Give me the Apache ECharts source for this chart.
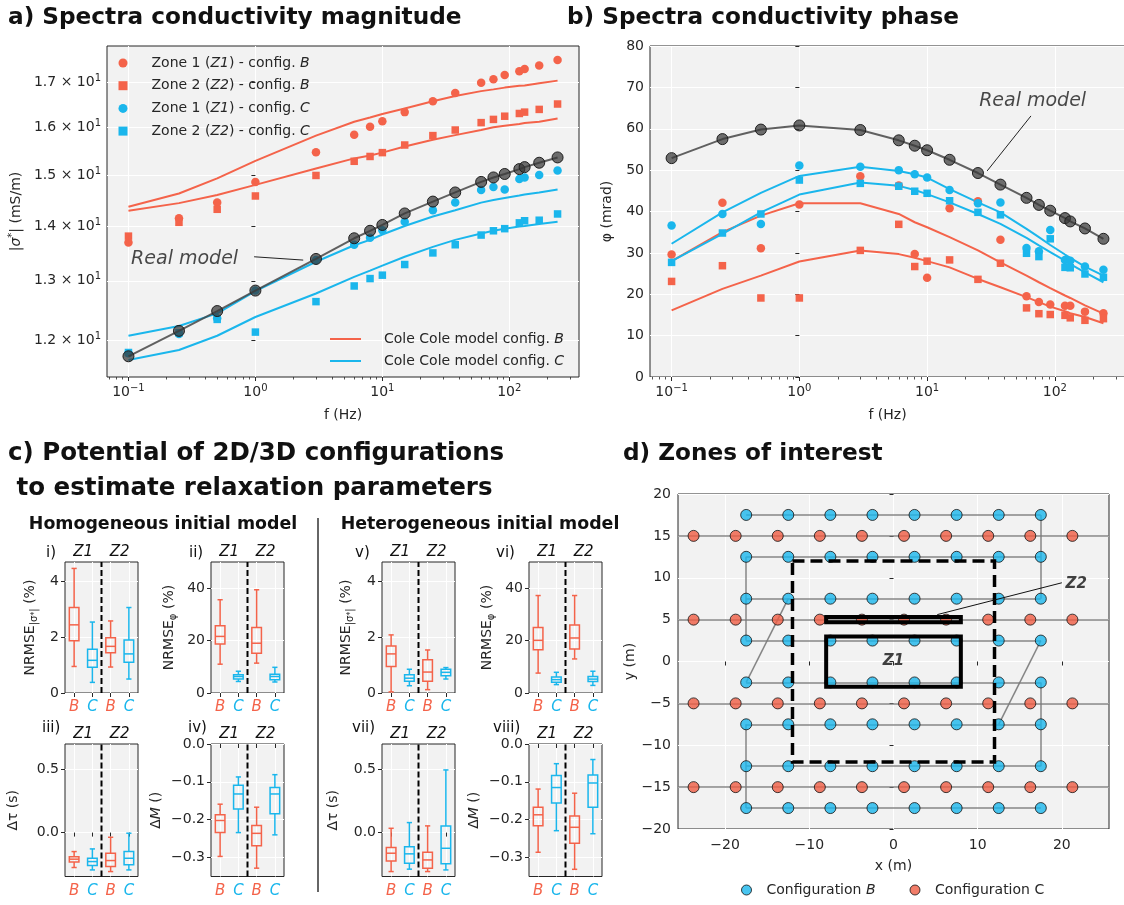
<!DOCTYPE html>
<html>
<head>
<meta charset="utf-8">
<script src="https://cdn.jsdelivr.net/npm/echarts@6/dist/echarts.min.js"></script>
<style>
html, body { margin: 0; padding: 0; background: #ffffff; }
#chart { width: 1124px; height: 905px; }
</style>
</head>
<body>
<div id="chart"></div>
<script>
// ---------------- data ----------------
// measurement frequencies (Hz)
const freqs = [0.1, 0.25, 0.5, 1, 3, 6, 8, 10, 15, 25, 37.5, 60, 75, 92, 120, 132, 172, 240];

// conductivity magnitude |sigma*| (mS/m)
const magReal  = [11.74, 12.15, 12.48, 12.83, 13.39, 13.77, 13.91, 14.02, 14.24, 14.47, 14.65, 14.86, 14.95, 15.02, 15.12, 15.16, 15.25, 15.36];
const magZ1B   = [13.69, 14.15, 14.45, 14.86, 15.47, 15.84, 16.01, 16.13, 16.33, 16.57, 16.76, 16.99, 17.07, 17.17, 17.26, 17.31, 17.39, 17.52];
const magZ2B   = [13.81, 14.07, 14.32, 14.58, 14.99, 15.28, 15.38, 15.46, 15.62, 15.82, 15.94, 16.10, 16.17, 16.24, 16.30, 16.33, 16.39, 16.51];
const magZ1C   = [11.79, 12.10, 12.36, 12.83, 13.37, 13.65, 13.78, 13.92, 14.08, 14.30, 14.45, 14.70, 14.76, 14.71, 14.92, 14.95, 15.00, 15.09];
const magZ2C   = [11.80, 12.12, 12.34, 12.13, 12.64, 12.91, 13.04, 13.10, 13.29, 13.50, 13.65, 13.83, 13.91, 13.95, 14.06, 14.10, 14.11, 14.23];
const magFitZ1B = [14.37, 14.63, 14.93, 15.29, 15.82, 16.12, 16.21, 16.29, 16.41, 16.57, 16.69, 16.80, 16.84, 16.88, 16.92, 16.93, 16.98, 17.04];
const magFitZ2B = [14.29, 14.44, 14.60, 14.80, 15.13, 15.34, 15.40, 15.46, 15.59, 15.73, 15.83, 15.94, 16.00, 16.03, 16.07, 16.09, 16.12, 16.19];
const magFitZ1C = [12.07, 12.23, 12.44, 12.82, 13.34, 13.64, 13.74, 13.84, 14.00, 14.18, 14.30, 14.45, 14.50, 14.54, 14.59, 14.61, 14.65, 14.71];
const magFitZ2C = [11.68, 11.84, 12.07, 12.38, 12.78, 13.07, 13.18, 13.27, 13.43, 13.61, 13.74, 13.86, 13.91, 13.95, 13.99, 14.00, 14.04, 14.08];
const magTicks = [12, 13, 14, 15, 16, 17];

// conductivity phase (mrad)
const phReal  = [52.9, 57.5, 59.8, 60.8, 59.7, 57.2, 55.9, 54.8, 52.5, 49.3, 46.5, 43.3, 41.6, 40.2, 38.4, 37.6, 35.9, 33.4];
const phZ1B   = [29.6, 42.1, 31.1, 41.7, 48.5, 46.3, 29.7, 24.0, 40.8, 42.5, 33.2, 19.5, 18.1, 17.5, 17.2, 17.2, 15.8, 15.4];
const phZ2B   = [23.1, 26.9, 19.1, 19.1, 30.6, 36.9, 26.7, 28.0, 28.3, 23.6, 27.5, 16.7, 15.3, 15.1, 14.9, 14.3, 13.7, 14.1];
const phZ1C   = [36.6, 39.4, 37.0, 51.1, 50.8, 50.0, 49.0, 48.2, 45.2, 42.0, 42.2, 31.2, 30.4, 35.5, 28.3, 28.1, 26.7, 25.9];
const phZ2C   = [27.7, 34.8, 39.4, 47.6, 46.8, 46.1, 44.9, 44.4, 42.6, 39.8, 39.2, 29.9, 29.1, 33.4, 26.5, 26.4, 24.9, 24.1];
const phFitZ1B = [28.0, 35.0, 39.0, 42.0, 42.0, 39.4, 37.4, 36.2, 33.8, 30.6, 27.7, 24.5, 22.9, 21.5, 19.7, 19.1, 17.3, 15.3];
const phFitZ2B = [16.1, 21.3, 24.5, 27.9, 30.6, 29.7, 28.8, 28.0, 26.5, 23.7, 21.7, 19.3, 18.1, 17.0, 15.9, 15.4, 14.5, 13.0];
const phFitZ1C = [32.2, 39.8, 44.5, 48.6, 50.8, 49.8, 49.0, 48.2, 45.4, 42.2, 39.8, 35.8, 33.8, 31.9, 29.6, 28.8, 26.7, 24.5];
const phFitZ2C = [28.0, 34.6, 39.8, 44.1, 47.0, 46.2, 45.2, 44.2, 42.2, 39.4, 37.0, 33.6, 31.8, 30.2, 28.1, 27.3, 25.3, 22.9];

// "Real model" callouts: [f (Hz), value] for text and pointer ends
const magNote = { text: [0.277, 13.38], from: [0.977, 13.43], to: [2.38, 13.37] };
const phNote  = { text: [67, 66.6], from: [65, 63.1], to: [29.5, 49.8] };

// box statistics per subplot, boxes ordered Z1-B, Z1-C, Z2-B, Z2-C
// each box: [lower whisker, Q1, median, Q3, upper whisker]
const boxI    = [[0.95, 1.87, 2.44, 3.06, 4.46], [0.38, 0.92, 1.17, 1.57, 2.54], [0.93, 1.44, 1.67, 1.98, 2.58], [0.50, 1.10, 1.40, 1.90, 3.06]];
const boxII   = [[11.0, 18.7, 21.6, 25.7, 35.6], [4.4, 5.3, 6.3, 7.0, 8.3], [11.4, 15.2, 19.0, 25.0, 39.4], [4.2, 5.1, 6.3, 7.2, 9.8]];
const boxIII  = [[-0.276, -0.232, -0.210, -0.190, -0.150], [-0.295, -0.260, -0.229, -0.203, -0.129], [-0.308, -0.268, -0.221, -0.163, -0.037], [-0.295, -0.255, -0.203, -0.150, -0.005]];
const boxIV   = [[-0.297, -0.234, -0.202, -0.187, -0.159], [-0.234, -0.172, -0.132, -0.109, -0.087], [-0.328, -0.269, -0.236, -0.215, -0.167], [-0.240, -0.184, -0.132, -0.115, -0.081]];
const boxV    = [[0.04, 0.95, 1.40, 1.68, 2.08], [0.26, 0.42, 0.53, 0.65, 0.85], [0.12, 0.42, 0.75, 1.19, 1.54], [0.50, 0.62, 0.74, 0.85, 0.91]];
const boxVI   = [[7.6, 16.5, 20.1, 25.0, 37.2], [3.2, 4.1, 5.1, 6.1, 7.9], [13.0, 16.8, 21.0, 26.0, 37.2], [2.9, 4.4, 5.3, 6.3, 8.3]];
const boxVII  = [[-0.308, -0.224, -0.163, -0.118, 0.034], [-0.289, -0.242, -0.168, -0.111, 0.079], [-0.308, -0.282, -0.216, -0.155, 0.053], [-0.295, -0.247, -0.124, 0.053, 0.495]];
const boxVIII = [[-0.286, -0.216, -0.187, -0.167, -0.119], [-0.229, -0.156, -0.115, -0.083, -0.052], [-0.331, -0.262, -0.220, -0.190, -0.130], [-0.237, -0.167, -0.103, -0.082, -0.041]];
const boxCats = ['B', 'C', 'B', 'C'];

// survey layout (m)
const cfgBX = [-17.5, -12.5, -7.5, -2.5, 2.5, 7.5, 12.5, 17.5];
const cfgBY = [17.5, 12.5, 7.5, 2.5, -2.5, -7.5, -12.5, -17.5];
const cfgCX = [-23.75, -18.75, -13.75, -8.75, -3.75, 1.25, 6.25, 11.25, 16.25, 21.25];
const cfgCY = [15, 5, -5, -15];
const cableC = [[[-25.6, 15], [25.6, 15]], [[-25.6, 5], [25.6, 5]], [[-25.6, -5], [25.6, -5]], [[-25.6, -15], [25.6, -15]]];
const cableB = [
  [[-17.5, 17.5], [17.5, 17.5]], [[-17.5, 12.5], [17.5, 12.5]], [[-17.5, 7.5], [17.5, 7.5]], [[-17.5, 2.5], [17.5, 2.5]],
  [[-17.5, -2.5], [17.5, -2.5]], [[-17.5, -7.5], [17.5, -7.5]], [[-17.5, -12.5], [17.5, -12.5]], [[-17.5, -17.5], [17.5, -17.5]],
  [[17.5, 17.5], [17.5, 7.5]], [[17.5, -2.5], [17.5, -12.5]], [[-17.5, 12.5], [-17.5, 2.5]], [[-17.5, -7.5], [-17.5, -17.5]],
  [[-12.5, 7.5], [-17.5, -2.5]], [[17.5, 2.5], [12.5, -7.5]]
];
const outerZone = [[-12, 12], [12, 12], [12, -12], [-12, -12], [-12, 12]];
const zoneZ1 = [[-8, 3], [8, 3], [8, -3], [-8, -3], [-8, 3], [8, 3]];
const zoneZ2 = [[-8, 5.3], [8, 5.3], [8, 4.7], [-8, 4.7], [-8, 5.3], [8, 5.3]];
const z1Label = [0, 0];
const z2Label = [21.7, 9.25];
const z2Pointer = [[20.0, 9.4], [5.2, 5.6]];

// ---------------- styling ----------------
const FONT = "'DejaVu Sans', sans-serif";
const INK = '#262626';
const RED = '#f4634a';
const BLUE = '#1ab6ec';
const BG = '#f2f2f2';
const lg = Math.log10;

const LOGF_MIN = -1.169, LOGF_MAX = 2.549;
const decadeTicks = [-1, 0, 1, 2];
const minorTicks = [];
for (let e = -2; e <= 2; e++) for (let k = 2; k <= 9; k++) minorTicks.push(lg(k * Math.pow(10, e)));

const tickRich = {
  b: { fontFamily: FONT, fontSize: 14, color: INK, lineHeight: 18 },
  s: { fontFamily: FONT, fontSize: 10, color: INK, lineHeight: 10, verticalAlign: 'top' }
};
const minus = v => (v < 0 ? '\u2212' + (-v) : '' + v);

function gridOf(b) {
  return { left: b.l, top: b.t, width: b.w, height: b.h, show: true, backgroundColor: BG,
           borderColor: INK, borderWidth: 1, containLabel: false, outerBoundsMode: 'none' };
}

const boxA = { l: 107, t: 46, w: 472, h: 331 };
const boxB = { l: 650, t: 46, w: 475, h: 331 };
const boxD = { l: 678, t: 494, w: 431, h: 335 };
const subBoxes = [
  { l: 65,  t: 562, w: 73, h: 131 },   // i
  { l: 211, t: 562, w: 73, h: 131 },   // ii
  { l: 65,  t: 744, w: 73, h: 132.5 }, // iii
  { l: 211, t: 744, w: 73, h: 132.5 }, // iv
  { l: 382, t: 562, w: 73, h: 131 },   // v
  { l: 529, t: 562, w: 73, h: 131 },   // vi
  { l: 382, t: 744, w: 73, h: 132.5 }, // vii
  { l: 529, t: 744, w: 73, h: 132.5 }  // viii
];

const nameStyle = { fontFamily: FONT, fontSize: 14, color: INK };
const tickLine = { color: INK, width: 1 };
const whiteSplit = { show: true, lineStyle: { color: '#ffffff', width: 1 } };

// ---------------- axes ----------------
const grids = [gridOf(boxA), gridOf(boxB)].concat(subBoxes.map(gridOf)).concat([gridOf(boxD)]);
const xAxes = [];
const yAxes = [];

function freqAxes(gi) {
  const base = { type: 'value', gridIndex: gi, position: 'bottom', min: LOGF_MIN, max: LOGF_MAX, axisLine: { show: false } };
  xAxes.push(Object.assign({}, base, {
    axisTick: { show: true, length: 4, lineStyle: tickLine, customValues: decadeTicks },
    axisLabel: { show: true, customValues: decadeTicks, margin: 6,
                 formatter: v => '{b|10}{s|' + minus(Math.round(v)) + '}', rich: tickRich },
    splitLine: whiteSplit,
    name: 'f (Hz)', nameLocation: 'middle', nameGap: 31, nameTextStyle: nameStyle
  }));
  const major = xAxes.length - 1;
  xAxes.push(Object.assign({}, base, {
    axisTick: { show: true, length: 2.5, lineStyle: { color: INK, width: 0.8 }, customValues: minorTicks },
    axisLabel: { show: false }, splitLine: { show: false }
  }));
  return major;
}

const XA = freqAxes(0);
yAxes.push({
  type: 'value', gridIndex: 0, min: 1.0575, max: 1.2518, axisLine: { show: false },
  axisTick: { show: true, length: 4, lineStyle: tickLine, customValues: magTicks.map(lg) },
  axisLabel: { customValues: magTicks.map(lg), margin: 6, rich: tickRich,
               formatter: v => '{b|' + (Math.pow(10, v) / 10).toFixed(1) + ' \u00d7 10}{s|1}' },
  splitLine: whiteSplit,
  name: '{i||\u03c3}{s|*}{b|| (mS/m)}', nameLocation: 'middle', nameGap: 82, nameRotate: 90,
  nameTextStyle: { rich: {
    b: { fontFamily: FONT, fontSize: 14, color: INK, lineHeight: 18 },
    i: { fontFamily: FONT, fontSize: 14, color: INK, fontStyle: 'italic', lineHeight: 18 },
    s: { fontFamily: FONT, fontSize: 10, color: INK, lineHeight: 10, verticalAlign: 'top' } } }
});
const YA = 0;

const XB = freqAxes(1);
yAxes.push({
  type: 'value', gridIndex: 1, min: 0, max: 80, interval: 10, axisLine: { show: false },
  axisTick: { show: true, length: 4, lineStyle: tickLine },
  axisLabel: { margin: 6, fontFamily: FONT, fontSize: 14, color: INK },
  splitLine: whiteSplit,
  name: '\u03c6 (mrad)', nameLocation: 'middle', nameGap: 36, nameRotate: 90, nameTextStyle: nameStyle
});
const YB = 1;

// box-plot subplots
const subRich = {
  n: { fontFamily: FONT, fontSize: 14, color: INK, lineHeight: 18 },
  i: { fontFamily: FONT, fontSize: 14, color: INK, fontStyle: 'italic', lineHeight: 18 },
  s: { fontFamily: FONT, fontSize: 10, color: INK, lineHeight: 10, verticalAlign: 'bottom' },
  ss: { fontFamily: FONT, fontSize: 8, color: INK, lineHeight: 14, verticalAlign: 'bottom' }
};
const nrmseSigma = '{n|NRMSE}{s||\u03c3}{ss|*}{s||}{n| (%)}';
const nrmsePhi = '{n|NRMSE}{s|\u03c6}{n| (%)}';
const dTau = '{n|\u0394\u03c4 (s)}';
const dM = '{n|\u0394}{i|M}{n| ()}';

const subSpecs = [
  { stats: boxI,    min: 0, max: 4.69, ticks: [0, 2, 4],       fmt: v => '' + v,            name: nrmseSigma, gap: 26, label: 'i)',    lx: 46 },
  { stats: boxII,   min: 0, max: 50,   ticks: [0, 20, 40],     fmt: v => '' + v,            name: nrmsePhi,   gap: 33, label: 'ii)',   lx: 189 },
  { stats: boxIII,  min: -0.347, max: 0.70, ticks: [0, 0.5],   fmt: v => v.toFixed(1),      name: dTau,       gap: 43, label: 'iii)',  lx: 42 },
  { stats: boxIV,   min: -0.35, max: 0, ticks: [0, -0.1, -0.2, -0.3], fmt: v => (v < 0 ? '\u2212' + (-v).toFixed(1) : '0.0'), name: dM, gap: 46, label: 'iv)', lx: 188 },
  { stats: boxV,    min: 0, max: 4.69, ticks: [0, 2, 4],       fmt: v => '' + v,            name: nrmseSigma, gap: 27, label: 'v)',    lx: 355 },
  { stats: boxVI,   min: 0, max: 50,   ticks: [0, 20, 40],     fmt: v => '' + v,            name: nrmsePhi,   gap: 33, label: 'vi)',   lx: 496 },
  { stats: boxVII,  min: -0.347, max: 0.70, ticks: [0, 0.5],   fmt: v => v.toFixed(1),      name: dTau,       gap: 40, label: 'vii)',  lx: 352 },
  { stats: boxVIII, min: -0.35, max: 0, ticks: [0, -0.1, -0.2, -0.3], fmt: v => (v < 0 ? '\u2212' + (-v).toFixed(1) : '0.0'), name: dM, gap: 46, label: 'viii)', lx: 493 }
];

const catRich = {
  r: { fontFamily: FONT, fontSize: 15, fontStyle: 'italic', color: RED },
  c: { fontFamily: FONT, fontSize: 15, fontStyle: 'italic', color: BLUE },
  z: { fontFamily: FONT, fontSize: 15, fontStyle: 'italic', color: '#111' }
};

subSpecs.forEach((sp, k) => {
  const gi = 2 + k;
  sp.xIndex = xAxes.length;
  xAxes.push({
    type: 'value', gridIndex: gi, position: 'bottom', min: 0.5, max: 4.5, axisLine: { show: false },
    axisTick: { show: true, length: 4, lineStyle: tickLine, customValues: [1, 2, 3, 4] },
    axisLabel: { customValues: [1, 2, 3, 4], margin: 7, rich: catRich,
                 formatter: v => (boxCats[Math.round(v) - 1] === 'B' ? '{r|B}' : '{c|C}') },
    splitLine: whiteSplit
  });
  xAxes.push({
    type: 'value', gridIndex: gi, position: 'top', min: 0.5, max: 4.5, axisLine: { show: false },
    axisTick: { show: false },
    axisLabel: { customValues: [1.5, 3.5], margin: 2, rich: catRich,
                 formatter: v => (v < 2 ? '{z|Z1}' : '{z|Z2}') },
    splitLine: { show: false }
  });
  sp.yIndex = yAxes.length;
  yAxes.push({
    type: 'value', gridIndex: gi, min: sp.min, max: sp.max, axisLine: { show: false },
    axisTick: { show: true, length: 4, lineStyle: tickLine, customValues: sp.ticks },
    axisLabel: { customValues: sp.ticks, margin: 6, fontFamily: FONT, fontSize: 14, color: INK, formatter: sp.fmt },
    splitLine: whiteSplit,
    name: sp.name, nameLocation: 'middle', nameGap: sp.gap, nameRotate: 90, nameTextStyle: { rich: subRich }
  });
});

// zones map
const XD = xAxes.length;
xAxes.push({
  type: 'value', gridIndex: 10, position: 'bottom', min: -25.6, max: 25.6, axisLine: { show: false },
  axisTick: { show: true, length: 4, lineStyle: tickLine, customValues: [-20, -10, 0, 10, 20] },
  axisLabel: { customValues: [-20, -10, 0, 10, 20], margin: 9, fontFamily: FONT, fontSize: 14, color: INK, formatter: minus },
  splitLine: whiteSplit,
  name: 'x (m)', nameLocation: 'middle', nameGap: 30, nameTextStyle: nameStyle
});
const YD = yAxes.length;
yAxes.push({
  type: 'value', gridIndex: 10, min: -20, max: 20, interval: 5, axisLine: { show: false },
  axisTick: { show: true, length: 4, lineStyle: tickLine },
  axisLabel: { margin: 7, fontFamily: FONT, fontSize: 14, color: INK, formatter: minus },
  splitLine: whiteSplit,
  name: 'y (m)', nameLocation: 'middle', nameGap: 36, nameRotate: 90, nameTextStyle: nameStyle
});

// ---------------- series ----------------
const N_Z1B = 'Zone 1 (Z1) - config. B';
const N_Z2B = 'Zone 2 (Z2) - config. B';
const N_Z1C = 'Zone 1 (Z1) - config. C';
const N_Z2C = 'Zone 2 (Z2) - config. C';
const N_FB = 'Cole Cole model config. B';
const N_FC = 'Cole Cole model config. C';

const series = [];
const pairs = (vals, ylog) => freqs.map((f, i) => [lg(f), ylog ? lg(vals[i]) : vals[i]]);

function spectraPanel(xi, yi, ylog, d) {
  const fit = (name, vals, color) => series.push({
    type: 'line', name, xAxisIndex: xi, yAxisIndex: yi, data: pairs(vals, ylog), symbol: 'none',
    lineStyle: { color, width: 2 }, itemStyle: { color }, z: 2, silent: true, animation: false
  });
  fit(N_FB, d.fitZ1B, RED); fit(N_FB, d.fitZ2B, RED);
  fit(N_FC, d.fitZ1C, BLUE); fit(N_FC, d.fitZ2C, BLUE);
  const pts = (name, vals, color, symbol, size) => series.push({
    type: 'scatter', name, xAxisIndex: xi, yAxisIndex: yi, data: pairs(vals, ylog), symbol, symbolSize: size,
    itemStyle: { color, opacity: 1 }, z: 3, silent: true, animation: false
  });
  pts(N_Z1B, d.z1B, RED, 'circle', 8.5);
  pts(N_Z2B, d.z2B, RED, 'rect', 7.5);
  pts(N_Z1C, d.z1C, BLUE, 'circle', 8.5);
  pts(N_Z2C, d.z2C, BLUE, 'rect', 7.5);
  series.push({
    type: 'line', name: 'Real model', xAxisIndex: xi, yAxisIndex: yi, data: pairs(d.real, ylog),
    symbol: 'circle', symbolSize: 11, showSymbol: true,
    lineStyle: { color: 'rgba(70,70,70,0.85)', width: 2 },
    itemStyle: { color: 'rgba(55,55,55,0.72)', borderColor: '#1e1e1e', borderWidth: 1 },
    z: 4, silent: true, animation: false
  });
  const nt = d.note;
  const pt = p => [lg(p[0]), ylog ? lg(p[1]) : p[1]];
  series.push({
    type: 'line', xAxisIndex: xi, yAxisIndex: yi, data: [pt(nt.from), pt(nt.to)], symbol: 'none',
    lineStyle: { color: '#222', width: 1 }, z: 5, silent: true, animation: false
  });
  series.push({
    type: 'scatter', xAxisIndex: xi, yAxisIndex: yi, data: [pt(nt.text)], symbolSize: 1,
    itemStyle: { color: 'transparent' }, z: 5, silent: true, animation: false,
    label: { show: true, position: 'inside', formatter: 'Real model', fontFamily: FONT, fontSize: 19,
             fontStyle: 'italic', color: '#1a1a1a' }
  });
}

spectraPanel(XA, YA, true, { real: magReal, z1B: magZ1B, z2B: magZ2B, z1C: magZ1C, z2C: magZ2C,
  fitZ1B: magFitZ1B, fitZ2B: magFitZ2B, fitZ1C: magFitZ1C, fitZ2C: magFitZ2C, note: magNote });
spectraPanel(XB, YB, false, { real: phReal, z1B: phZ1B, z2B: phZ2B, z1C: phZ1C, z2C: phZ2C,
  fitZ1B: phFitZ1B, fitZ2B: phFitZ2B, fitZ1C: phFitZ1C, fitZ2C: phFitZ2C, note: phNote });

// box plots (open box, median bar, whiskers with half-width caps)
function renderBox(params, api) {
  const x = api.value(0);
  const lo = api.coord([x, api.value(1)]);
  const q1 = api.coord([x, api.value(2)]);
  const md = api.coord([x, api.value(3)]);
  const q3 = api.coord([x, api.value(4)]);
  const hi = api.coord([x, api.value(5)]);
  const color = boxCats[params.dataIndex] === 'B' ? RED : BLUE;
  const hw = 4.8, cw = 2.6;
  const st = { stroke: color, lineWidth: 1.5, fill: 'transparent' };
  const ln = (x1, y1, x2, y2) => ({ type: 'line', shape: { x1, y1, x2, y2 }, style: st });
  return { type: 'group', children: [
    { type: 'rect', shape: { x: q3[0] - hw, y: q3[1], width: 2 * hw, height: q1[1] - q3[1] }, style: st },
    ln(md[0] - hw, md[1], md[0] + hw, md[1]),
    ln(lo[0], lo[1], q1[0], q1[1]),
    ln(q3[0], q3[1], hi[0], hi[1]),
    ln(lo[0] - cw, lo[1], lo[0] + cw, lo[1]),
    ln(hi[0] - cw, hi[1], hi[0] + cw, hi[1])
  ] };
}

subSpecs.forEach(sp => {
  series.push({
    type: 'line', xAxisIndex: sp.xIndex, yAxisIndex: sp.yIndex, data: [[2.5, sp.min], [2.5, sp.max]],
    symbol: 'none', lineStyle: { color: '#000', width: 2, type: [6, 3] }, z: 2, silent: true, animation: false
  });
  series.push({
    type: 'custom', xAxisIndex: sp.xIndex, yAxisIndex: sp.yIndex, renderItem: renderBox,
    data: sp.stats.map((s, i) => [i + 1].concat(s)), encode: { x: 0, y: [1, 2, 3, 4, 5] },
    z: 3, silent: true, animation: false
  });
});

// zones of interest map
series.push({
  type: 'lines', coordinateSystem: 'cartesian2d', xAxisIndex: XD, yAxisIndex: YD, polyline: false,
  data: cableC.concat(cableB).map(s => ({ coords: s })),
  lineStyle: { color: '#7a7a7a', width: 1.5, opacity: 0.9, curveness: 0 }, z: 1, silent: true, animation: false
});
const gridPts = (xs, ys) => { const out = []; ys.forEach(y => xs.forEach(x => out.push([x, y]))); return out; };
series.push({
  type: 'scatter', name: 'Configuration C', xAxisIndex: XD, yAxisIndex: YD, data: gridPts(cfgCX, cfgCY),
  symbol: 'circle', symbolSize: 11, itemStyle: { color: '#ef5d43', borderColor: '#111', borderWidth: 1 },
  z: 2, silent: true, animation: false
});
series.push({
  type: 'scatter', name: 'Configuration B', xAxisIndex: XD, yAxisIndex: YD, data: gridPts(cfgBX, cfgBY),
  symbol: 'circle', symbolSize: 11, itemStyle: { color: '#1ab6ec', borderColor: '#111', borderWidth: 1 },
  z: 2, silent: true, animation: false
});
const outline = (pts, width, type) => series.push({
  type: 'lines', coordinateSystem: 'cartesian2d', xAxisIndex: XD, yAxisIndex: YD, polyline: true,
  data: [{ coords: pts }], lineStyle: { color: '#000', width, type, join: 'miter', opacity: 1 },
  z: 3, silent: true, animation: false
});
outline(outerZone, 3.5, [12, 6]);
outline(zoneZ1, 4, 'solid');
outline(zoneZ2, 4, 'solid');
series.push({
  type: 'line', xAxisIndex: XD, yAxisIndex: YD, data: z2Pointer, symbol: 'none',
  lineStyle: { color: '#111', width: 1 }, z: 4, silent: true, animation: false
});
[[z1Label, 'Z1'], [z2Label, 'Z2']].forEach(([p, t]) => series.push({
  type: 'scatter', xAxisIndex: XD, yAxisIndex: YD, data: [p], symbolSize: 1, itemStyle: { color: 'transparent' },
  z: 5, silent: true, animation: false,
  label: { show: true, position: 'inside', formatter: t, fontFamily: FONT, fontSize: 15, fontWeight: 'bold',
           fontStyle: 'italic', color: '#111' }
}));

// ---------------- legends ----------------
const legendRich = {
  n: { fontFamily: FONT, fontSize: 14, color: INK, lineHeight: 16 },
  i: { fontFamily: FONT, fontSize: 14, color: INK, fontStyle: 'italic', lineHeight: 16 }
};
const zoneLabel = name => {
  const m = name.match(/^Zone (\d) \((Z\d)\) - config\. ([BC])$/);
  return '{n|Zone ' + m[1] + ' (}{i|' + m[2] + '}{n|) - config. }{i|' + m[3] + '}';
};
const legends = [
  {
    data: [{ name: N_Z1B, icon: 'circle' }, { name: N_Z2B, icon: 'rect' }, { name: N_Z1C, icon: 'circle' }, { name: N_Z2C, icon: 'rect' }],
    orient: 'vertical', left: 118.5, top: 56, padding: 0, itemWidth: 9, itemHeight: 9, itemGap: 8.7, selectedMode: false,
    textStyle: { padding: [0, 0, 0, 19], rich: legendRich }, formatter: zoneLabel,
    itemStyle: { borderWidth: 0 }
  },
  {
    data: [{ name: N_FB, icon: 'rect' }, { name: N_FC, icon: 'rect' }],
    orient: 'vertical', left: 330, top: 332, padding: 0, itemWidth: 31, itemHeight: 2, itemGap: 8, selectedMode: false,
    textStyle: { padding: [0, 0, 0, 18], rich: legendRich },
    formatter: name => '{n|Cole Cole model config. }{i|' + name.slice(-1) + '}'
  },
  {
    data: [{ name: 'Configuration B', icon: 'circle' }, { name: 'Configuration C', icon: 'circle' }],
    orient: 'horizontal', left: 741, top: 883, padding: 0, itemWidth: 10, itemHeight: 10, itemGap: 34, selectedMode: false,
    textStyle: { padding: [0, 0, 0, 10], rich: legendRich },
    itemStyle: { borderColor: '#111', borderWidth: 1 },
    formatter: name => (name === 'Configuration B' ? '{n|Configuration }{i|B}' : '{n|Configuration C}')
  }
];

// ---------------- titles & labels ----------------
const txt = (x, y, text, size, weight, style, align) => ({
  type: 'text', x, y, silent: true,
  style: { text, fontFamily: FONT, fontSize: size, fontWeight: weight || 'normal', fontStyle: style || 'normal',
           fill: '#111', verticalAlign: 'middle', align: align || 'left' }
});
const graphics = [
  txt(8, 18, 'a) Spectra conductivity magnitude', 23.2, 'bold'),
  txt(567, 18, 'b) Spectra conductivity phase', 23.2, 'bold'),
  txt(8, 454, 'c) Potential of 2D/3D configurations', 24.5, 'bold'),
  txt(8, 489, ' to estimate relaxation parameters', 24.5, 'bold'),
  txt(623, 454, 'd) Zones of interest', 23.2, 'bold'),
  txt(163, 524, 'Homogeneous initial model', 17.4, 'bold', 'normal', 'center'),
  txt(480, 524, 'Heterogeneous initial model', 17.4, 'bold', 'normal', 'center'),
  { type: 'line', silent: true, shape: { x1: 318, y1: 518, x2: 318, y2: 892 }, style: { stroke: '#333', lineWidth: 1.5 } }
];
subSpecs.forEach((sp, k) => {
  graphics.push(txt(sp.lx, k % 4 < 2 ? 553 : 728, sp.label, 15, 'normal'));
});

const chart = echarts.init(document.getElementById('chart'), null, { renderer: 'canvas', width: 1124, height: 905 });
chart.setOption({
  animation: false,
  backgroundColor: '#ffffff',
  textStyle: { fontFamily: FONT },
  grid: grids,
  xAxis: xAxes,
  yAxis: yAxes,
  legend: legends,
  series,
  graphic: graphics
});
</script>
</body>
</html>
